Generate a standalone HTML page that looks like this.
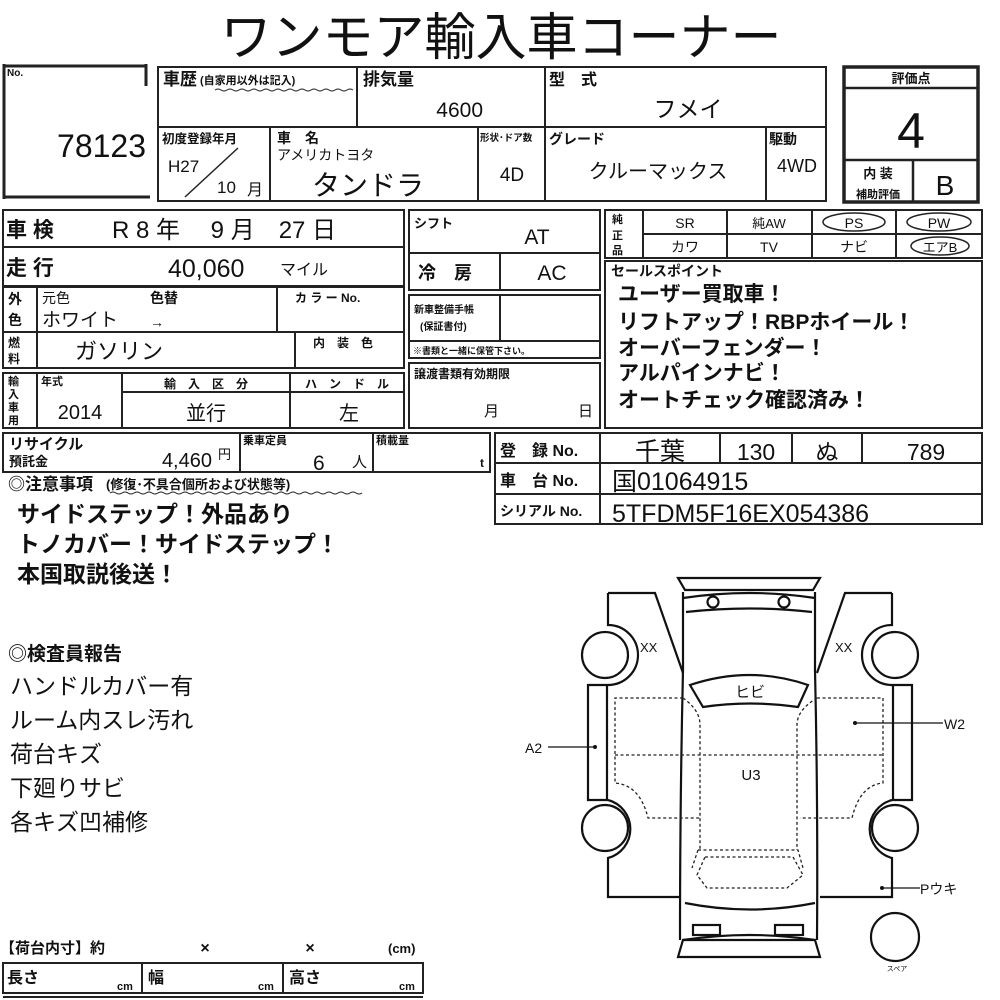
<!DOCTYPE html>
<html><head><meta charset="utf-8"><style>
html,body{margin:0;padding:0;background:#fff;width:1000px;height:1000px;overflow:hidden}
svg{display:block}
text{font-family:"Liberation Sans","Noto Sans CJK JP",sans-serif;fill:#111}
.b{font-weight:bold}
</style></head><body>
<svg width="1000" height="1000" viewBox="0 0 1000 1000" xmlns="http://www.w3.org/2000/svg">
<g fill="none" stroke="#222" stroke-width="2">
<path d="M4 66 H146 M146 64 V86 M4 64 V199 M4 197 H150" stroke-width="3"/>
<rect x="158" y="67" width="668" height="134"/>
<path d="M158 127 H826 M357 67 V127 M545 67 V201 M270 127 V201 M478 127 V201 M766 127 V201"/>
<path d="M185 197 L238 148" stroke-width="1.5"/>
<rect x="844" y="67" width="134" height="135" stroke-width="3.5"/>
<path d="M844 88 H978 M844 160 H978 M913 160 V202" stroke-width="2.5"/>
<rect x="3" y="210" width="401" height="76"/>
<path d="M3 247 H404"/>
<rect x="3" y="287" width="401" height="81"/>
<path d="M3 332 H404 M37 287 V368 M277 287 V332 M295 332 V368"/>
<rect x="3" y="373" width="401" height="55"/>
<path d="M37 373 V428 M122 373 V428 M290 373 V428 M122 392 H404"/>
<rect x="3" y="433" width="487" height="39"/>
<path d="M240 433 V472 M373 433 V472"/>
<rect x="409" y="210" width="191" height="80"/>
<path d="M409 253 H600 M500 253 V290"/>
<rect x="409" y="295" width="191" height="63"/>
<path d="M409 341 H600 M500 295 V341"/>
<rect x="409" y="363" width="191" height="65"/>
<rect x="605" y="210" width="377" height="48"/>
<path d="M643 234 H982 M643 210 V258 M727 210 V258 M812 210 V258 M896 210 V258"/>
<rect x="605" y="261" width="377" height="167"/>
<rect x="495" y="433" width="487" height="91"/>
<path d="M495 463 H982 M495 494 H982 M600 433 V524 M720 433 V463 M792 433 V463 M862 433 V463"/>
<rect x="3" y="963" width="420" height="30"/>
<path d="M142 963 V993 M283 963 V993 M3 997 H423"/>
<ellipse cx="854" cy="222" rx="31" ry="9" stroke-width="1.5"/>
<ellipse cx="939" cy="222" rx="32" ry="9" stroke-width="1.5"/>
<ellipse cx="940" cy="246" rx="29" ry="9" stroke-width="1.5"/>
</g>
<path d="M215 90 Q218 88 221 90 T227 90 T233 90 T239 90 T245 90 T251 90 T257 90 T263 90 T269 90 T275 90 T281 90 T287 90 T293 90 T299 90 T305 90 T311 90 T317 90 T323 90 T329 90 T335 90 T341 90 T347 90 T353 90" stroke="#222" fill="none" stroke-width="1"/>
<path d="M110 493 Q113 491 116 493 T122 493 T128 493 T134 493 T140 493 T146 493 T152 493 T158 493 T164 493 T170 493 T176 493 T182 493 T188 493 T194 493 T200 493 T206 493 T212 493 T218 493 T224 493 T230 493 T236 493 T242 493 T248 493 T254 493 T260 493 T266 493 T272 493 T278 493 T284 493 T290 493 T296 493 T302 493 T308 493 T314 493 T320 493 T326 493 T332 493 T338 493 T344 493 T350 493 T356 493 T362 493" stroke="#222" fill="none" stroke-width="1"/>

<text x="501" y="55" font-size="51" text-anchor="middle">ワンモア輸入車コーナー</text>
<text x="7" y="76" font-size="10" class="b">No.</text>
<text x="146" y="157" font-size="32" text-anchor="end">78123</text>

<text x="163" y="85" font-size="17" class="b">車歴</text>
<text x="200" y="84" font-size="11" class="b">(自家用以外は記入)</text>
<text x="363" y="85" font-size="17" class="b">排気量</text>
<text x="483" y="117" font-size="21" text-anchor="end">4600</text>
<text x="549" y="85" font-size="16" class="b">型　式</text>
<text x="688" y="117" font-size="23" text-anchor="middle">フメイ</text>
<text x="162" y="143" font-size="12.5" class="b">初度登録年月</text>
<text x="168" y="172" font-size="17">H27</text>
<text x="217" y="193" font-size="17">10</text>
<text x="247" y="195" font-size="16">月</text>
<text x="277" y="143" font-size="14" class="b">車　名</text>
<text x="277" y="160" font-size="14">アメリカトヨタ</text>
<text x="312" y="195" font-size="28">タンドラ</text>
<text x="480" y="141" font-size="9.5" class="b">形状･ドア数</text>
<text x="512" y="181" font-size="19" text-anchor="middle">4D</text>
<text x="549" y="144" font-size="14" class="b">グレード</text>
<text x="658" y="178" font-size="20" text-anchor="middle">クルーマックス</text>
<text x="769" y="144" font-size="14" class="b">駆動</text>
<text x="797" y="172" font-size="18" text-anchor="middle">4WD</text>
<text x="911" y="83" font-size="13" class="b" text-anchor="middle">評価点</text>
<text x="911" y="148" font-size="50" text-anchor="middle">4</text>
<text x="878" y="178" font-size="13" class="b" text-anchor="middle">内 装</text>
<text x="878" y="198" font-size="11" class="b" text-anchor="middle">補助評価</text>
<text x="945" y="195" font-size="28" text-anchor="middle">B</text>

<text x="6" y="237" font-size="21" class="b">車 検</text>
<text x="112" y="238" font-size="24">R 8 年　 9 月　27 日</text>
<text x="6" y="275" font-size="21" class="b">走 行</text>
<text x="168" y="277" font-size="25">40,060</text>
<text x="280" y="275" font-size="16">マイル</text>
<text x="8" y="304" font-size="14" class="b">外</text>
<text x="8" y="325" font-size="14" class="b">色</text>
<text x="42" y="303" font-size="14">元色</text>
<text x="150" y="303" font-size="14" class="b">色替</text>
<text x="42" y="326" font-size="19">ホワイト</text>
<text x="150" y="327" font-size="14">→</text>
<text x="295" y="302" font-size="12" class="b">カ ラ ー No.</text>
<text x="8" y="347" font-size="12" class="b">燃</text>
<text x="8" y="363" font-size="12" class="b">料</text>
<text x="75" y="359" font-size="22">ガソリン</text>
<text x="313" y="347" font-size="12" class="b">内　装　色</text>
<text x="8" y="385" font-size="11" class="b">輸</text>
<text x="8" y="398" font-size="11" class="b">入</text>
<text x="8" y="411" font-size="11" class="b">車</text>
<text x="8" y="424" font-size="11" class="b">用</text>
<text x="41" y="385" font-size="11" class="b">年式</text>
<text x="80" y="419" font-size="20" text-anchor="middle">2014</text>
<text x="206" y="388" font-size="12" class="b" text-anchor="middle">輸　入　区　分</text>
<text x="206" y="420" font-size="20" text-anchor="middle">並行</text>
<text x="347" y="388" font-size="12" class="b" text-anchor="middle">ハ　ン　ド　ル</text>
<text x="349" y="420" font-size="20" text-anchor="middle">左</text>
<text x="9" y="449" font-size="15" class="b">リサイクル</text>
<text x="9" y="466" font-size="13" class="b">預託金</text>
<text x="212" y="467" font-size="20" text-anchor="end">4,460</text>
<text x="218" y="459" font-size="13">円</text>
<text x="243" y="444" font-size="11" class="b">乗車定員</text>
<text x="313" y="470" font-size="21">6</text>
<text x="352" y="467" font-size="15">人</text>
<text x="376" y="444" font-size="11" class="b">積載量</text>
<text x="480" y="467" font-size="12" class="b">t</text>
<text x="8" y="490" font-size="17" class="b">◎注意事項</text>
<text x="106" y="489" font-size="13" class="b">(修復･不具合個所および状態等)</text>

<text x="414" y="228" font-size="13" class="b">シフト</text>
<text x="537" y="244" font-size="21" text-anchor="middle">AT</text>
<text x="418" y="279" font-size="18" class="b">冷　房</text>
<text x="552" y="280" font-size="21" text-anchor="middle">AC</text>
<text x="414" y="313" font-size="10" class="b">新車整備手帳</text>
<text x="420" y="330" font-size="10" class="b">(保証書付)</text>
<text x="413" y="354" font-size="9" class="b">※書類と一緒に保管下さい。</text>
<text x="414" y="378" font-size="12" class="b">譲渡書類有効期限</text>
<text x="484" y="416" font-size="15">月</text>
<text x="578" y="416" font-size="15">日</text>

<text x="612" y="223" font-size="11" class="b">純</text>
<text x="612" y="239" font-size="11" class="b">正</text>
<text x="612" y="254" font-size="11" class="b">品</text>
<text x="685" y="228" font-size="14" text-anchor="middle">SR</text>
<text x="769" y="228" font-size="13" text-anchor="middle">純AW</text>
<text x="854" y="228" font-size="14" text-anchor="middle">PS</text>
<text x="939" y="228" font-size="14" text-anchor="middle">PW</text>
<text x="685" y="252" font-size="14" text-anchor="middle">カワ</text>
<text x="769" y="252" font-size="14" text-anchor="middle">TV</text>
<text x="854" y="252" font-size="14" text-anchor="middle">ナビ</text>
<text x="940" y="252" font-size="13" text-anchor="middle">エアB</text>
<text x="611" y="276" font-size="14" class="b">セールスポイント</text>
<text x="618" y="301" font-size="21" class="b">ユーザー買取車！</text>
<text x="618" y="329" font-size="21" class="b">リフトアップ！RBPホイール！</text>
<text x="618" y="355" font-size="21" class="b">オーバーフェンダー！</text>
<text x="618" y="380" font-size="21" class="b">アルパインナビ！</text>
<text x="618" y="407" font-size="21" class="b">オートチェック確認済み！</text>

<text x="500" y="456" font-size="16" class="b">登　録 No.</text>
<text x="660" y="460" font-size="25" text-anchor="middle">千葉</text>
<text x="756" y="460" font-size="23" text-anchor="middle">130</text>
<text x="827" y="460" font-size="23" text-anchor="middle">ぬ</text>
<text x="926" y="460" font-size="23" text-anchor="middle">789</text>
<text x="500" y="486" font-size="16" class="b">車　台 No.</text>
<text x="612" y="490" font-size="25">国01064915</text>
<text x="500" y="516" font-size="14" class="b">シリアル No.</text>
<text x="612" y="522" font-size="25">5TFDM5F16EX054386</text>

<text x="17" y="522" font-size="23" class="b">サイドステップ！外品あり</text>
<text x="17" y="552" font-size="23" class="b">トノカバー！サイドステップ！</text>
<text x="17" y="582" font-size="23" class="b">本国取説後送！</text>
<text x="8" y="660" font-size="19" class="b">◎検査員報告</text>
<text x="10" y="694" font-size="23">ハンドルカバー有</text>
<text x="10" y="728" font-size="23">ルーム内スレ汚れ</text>
<text x="10" y="762" font-size="23">荷台キズ</text>
<text x="10" y="796" font-size="23">下廻りサビ</text>
<text x="10" y="830" font-size="23">各キズ凹補修</text>

<text x="0" y="953" font-size="15" class="b">【荷台内寸】約</text>
<text x="205" y="953" font-size="16" class="b" text-anchor="middle">×</text>
<text x="310" y="953" font-size="16" class="b" text-anchor="middle">×</text>
<text x="388" y="953" font-size="13" class="b">(cm)</text>
<text x="7" y="983" font-size="16" class="b">長さ</text>
<text x="117" y="990" font-size="11" class="b">cm</text>
<text x="148" y="983" font-size="16" class="b">幅</text>
<text x="258" y="990" font-size="11" class="b">cm</text>
<text x="289" y="983" font-size="16" class="b">高さ</text>
<text x="399" y="990" font-size="11" class="b">cm</text>

<g fill="none" stroke="#111" stroke-width="2.2">
<path d="M678 578 H820 L813 590 H685 Z"/>
<path d="M683 598 Q750 588 815 598"/>
<circle cx="713" cy="602" r="5.5"/>
<circle cx="784" cy="602" r="5.5"/>
<path d="M683 592 L683 670 Q680 800 680 940 M815 592 L815 670 Q818 800 817 940"/>
<path d="M686 612 Q750 605 812 612"/>
<path d="M685 903 Q750 916 815 903"/>
<rect x="693" y="925" width="27" height="10"/>
<rect x="775" y="925" width="28" height="10"/>
<path d="M678 957 H820 L815 940 H683 Z"/>
<path d="M683 940 Q750 930 815 940"/>
<path d="M690 685 Q750 665 808 685 L798 707 Q750 700 703 707 Z"/>
<path d="M608 593 H655 L683 673"/>
<path d="M608 593 V625 A30 30 0 0 1 608 685 V685"/>
<path d="M588 685 H607 V800 H588 Z"/>
<path d="M608 800 A30 30 0 0 1 608 858 V897 H680"/>
<circle cx="605" cy="655" r="23"/>
<circle cx="605" cy="828" r="23"/>
<path d="M892 593 H845 L817 673"/>
<path d="M892 593 V625 A30 30 0 0 0 892 685"/>
<path d="M912 685 H893 V800 H912 Z"/>
<path d="M892 800 A30 30 0 0 0 892 858 V897 H820"/>
<circle cx="895" cy="655" r="23"/>
<circle cx="895" cy="828" r="23"/>
<circle cx="895" cy="937" r="24"/>
</g>
<g fill="none" stroke="#222" stroke-width="1.3" stroke-dasharray="3,2.5">
<path d="M683 698 H615 V783 Q640 785 648 818 H700"/>
<path d="M817 698 H883 V783 Q860 785 852 818 H800"/>
<path d="M615 755 H883"/>
<path d="M683 698 Q700 710 700 725 V850 M817 698 Q797 710 797 725 V850"/>
<path d="M698 850 H798 L803 868"/>
<path d="M698 850 L692 868"/>
<path d="M705 857 H793 L803 875 L787 888 H707 L697 875 Z"/>
</g>
<g stroke="#111" stroke-width="1.3">
<path d="M548 747 H595 M855 723 H943 M882 888 H920"/>
</g>
<circle cx="595" cy="747" r="2" fill="#111"/>
<circle cx="855" cy="723" r="2" fill="#111"/>
<circle cx="882" cy="888" r="2" fill="#111"/>
<text x="640" y="652" font-size="13">XX</text>
<text x="835" y="652" font-size="13">XX</text>
<text x="750" y="697" font-size="15" text-anchor="middle">ヒビ</text>
<text x="751" y="780" font-size="15" text-anchor="middle">U3</text>
<text x="525" y="753" font-size="14">A2</text>
<text x="944" y="729" font-size="14">W2</text>
<text x="920" y="894" font-size="14">Pウキ</text>
<text x="897" y="971" font-size="7" text-anchor="middle">スペア</text>
</svg>
</body></html>
